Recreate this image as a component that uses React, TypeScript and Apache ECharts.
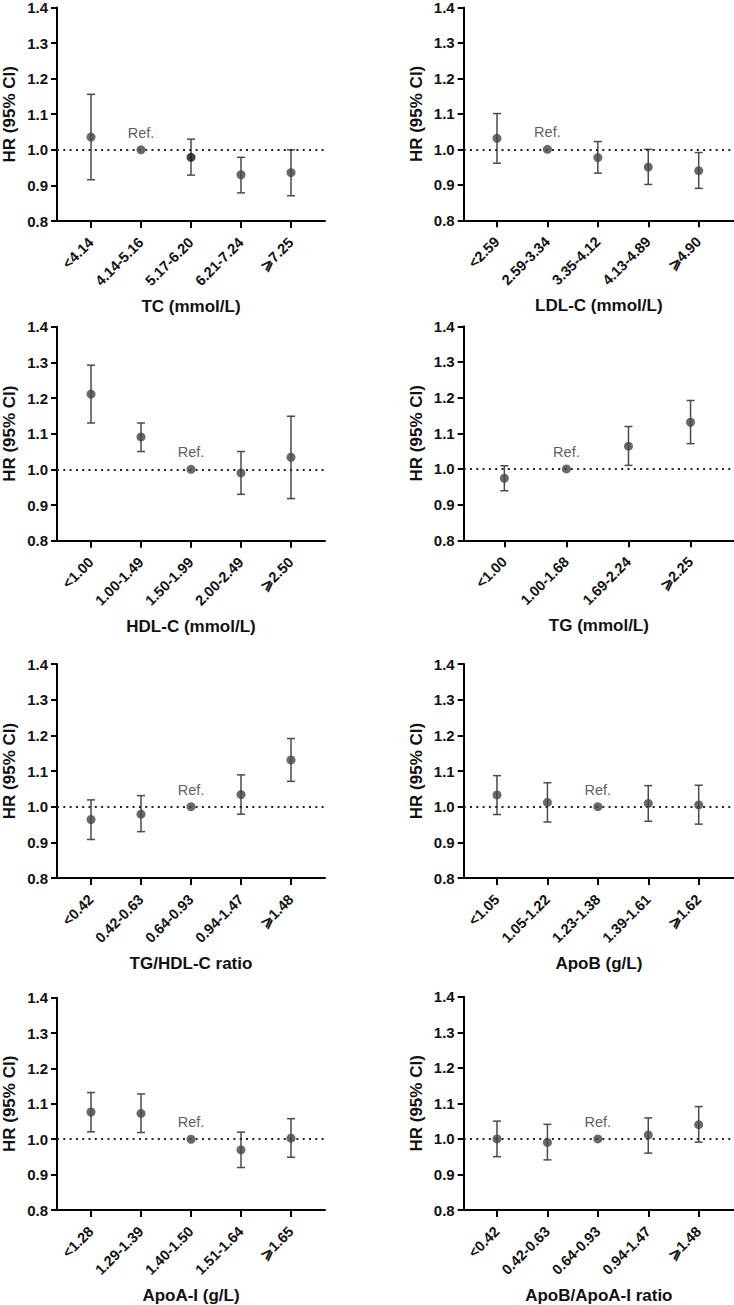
import React, { useEffect, useRef } from "react";
import * as echarts from "echarts";

// ---------- data ----------
const tcCats = ["<4.14", "4.14-5.16", "5.17-6.20", "6.21-7.24", "⩾7.25"];
const tcHR = [1.036, 1.0, 0.979, 0.93, 0.936];
const tcLow = [0.916, null, 0.929, 0.879, 0.871];
const tcHigh = [1.156, null, 1.03, 0.979, 1.0];

const ldlCats = ["<2.59", "2.59-3.34", "3.35-4.12", "4.13-4.89", "⩾4.90"];
const ldlHR = [1.031, 1.0, 0.977, 0.95, 0.94];
const ldlLow = [0.961, null, 0.933, 0.901, 0.89];
const ldlHigh = [1.101, null, 1.022, 1.0, 0.991];

const hdlCats = ["<1.00", "1.00-1.49", "1.50-1.99", "2.00-2.49", "⩾2.50"];
const hdlHR = [1.211, 1.091, 1.0, 0.99, 1.034];
const hdlLow = [1.13, 1.05, null, 0.93, 0.918];
const hdlHigh = [1.292, 1.13, null, 1.05, 1.149];

const tgCats = ["<1.00", "1.00-1.68", "1.69-2.24", "⩾2.25"];
const tgHR = [0.974, 1.0, 1.064, 1.131];
const tgLow = [0.939, null, 1.01, 1.071];
const tgHigh = [1.009, null, 1.119, 1.192];

const tgHdlCats = ["<0.42", "0.42-0.63", "0.64-0.93", "0.94-1.47", "⩾1.48"];
const tgHdlHR = [0.964, 0.979, 1.0, 1.034, 1.131];
const tgHdlLow = [0.908, 0.93, null, 0.979, 1.071];
const tgHdlHigh = [1.019, 1.031, null, 1.089, 1.191];

const apoBCats = ["<1.05", "1.05-1.22", "1.23-1.38", "1.39-1.61", "⩾1.62"];
const apoBHR = [1.033, 1.012, 1.0, 1.009, 1.005];
const apoBLow = [0.978, 0.957, null, 0.959, 0.951];
const apoBHigh = [1.087, 1.067, null, 1.059, 1.06];

const apoACats = ["<1.28", "1.29-1.39", "1.40-1.50", "1.51-1.64", "⩾1.65"];
const apoAHR = [1.077, 1.073, 1.0, 0.97, 1.003];
const apoALow = [1.021, 1.019, null, 0.92, 0.949];
const apoAHigh = [1.132, 1.128, null, 1.02, 1.058];

const ratioCats = ["<0.42", "0.42-0.63", "0.64-0.93", "0.94-1.47", "⩾1.48"];
const ratioHR = [1.0, 0.99, 1.0, 1.011, 1.04];
const ratioLow = [0.95, 0.941, null, 0.96, 0.991];
const ratioHigh = [1.05, 1.041, null, 1.059, 1.091];

const yTicksMin = 0.8;
const yTicksMax = 1.4;
const yTickStep = 0.1;
const yAxisTitle = "HR (95% CI)";
const refLabel = "Ref.";

// ---------- layout ----------
const FONT = "Arial";

const panels = [
  { cats: tcCats, hr: tcHR, lo: tcLow, hi: tcHigh, name: "TC (mmol/L)", left: 54.5, top: 7, width: 270.5, xMin: -0.68, xMax: 4.68, dark: [2] },
  { cats: ldlCats, hr: ldlHR, lo: ldlLow, hi: ldlHigh, name: "LDL-C (mmol/L)", left: 463.7, top: 6.3, width: 270.3, xMin: -0.66, xMax: 4.7, dark: [] },
  { cats: hdlCats, hr: hdlHR, lo: hdlLow, hi: hdlHigh, name: "HDL-C (mmol/L)", left: 54.5, top: 326.7, width: 270.5, xMin: -0.68, xMax: 4.68, dark: [] },
  { cats: tgCats, hr: tgHR, lo: tgLow, hi: tgHigh, name: "TG (mmol/L)", left: 463.7, top: 326.3, width: 270.3, xMin: -0.655, xMax: 3.7, dark: [] },
  { cats: tgHdlCats, hr: tgHdlHR, lo: tgHdlLow, hi: tgHdlHigh, name: "TG/HDL-C ratio", left: 54.5, top: 664, width: 270.5, xMin: -0.68, xMax: 4.68, dark: [] },
  { cats: apoBCats, hr: apoBHR, lo: apoBLow, hi: apoBHigh, name: "ApoB (g/L)", left: 463.7, top: 664, width: 270.3, xMin: -0.66, xMax: 4.7, dark: [] },
  { cats: apoACats, hr: apoAHR, lo: apoALow, hi: apoAHigh, name: "ApoA-I (g/L)", left: 54.5, top: 997.7, width: 270.5, xMin: -0.68, xMax: 4.68, dark: [] },
  { cats: ratioCats, hr: ratioHR, lo: ratioLow, hi: ratioHigh, name: "ApoB/ApoA-I ratio", left: 463.7, top: 996.7, width: 270.3, xMin: -0.66, xMax: 4.7, dark: [] },
];
const PLOT_H = 214;

function buildOption() {
  const grid: any[] = [];
  const xAxis: any[] = [];
  const yAxis: any[] = [];
  const series: any[] = [];

  panels.forEach((p, gi) => {
    grid.push({ left: p.left, top: p.top, width: p.width, height: PLOT_H, containLabel: false });
    const idx = p.cats.map((_, i) => i);
    xAxis.push({
      type: "value",
      gridIndex: gi,
      min: p.xMin,
      max: p.xMax,
      axisLine: { show: true, onZero: false, lineStyle: { color: "#000", width: 2 } },
      axisTick: { show: true, customValues: idx, length: 7, lineStyle: { color: "#000", width: 2 } },
      axisLabel: {
        customValues: idx,
        formatter: (v: number) => p.cats[Math.round(v)] ?? "",
        rotate: 45,
        margin: 19,
        align: "right",
        verticalAlign: "middle",
        padding: [6, 0, 0, 0],
        fontFamily: FONT,
        fontWeight: "bold",
        fontSize: 14.5,
        color: "#111",
      },
      splitLine: { show: false },
      name: p.name,
      nameLocation: "middle",
      nameGap: 77,
      nameTextStyle: { fontFamily: FONT, fontWeight: "bold", fontSize: 17, color: "#111" },
    });
    yAxis.push({
      type: "value",
      gridIndex: gi,
      min: yTicksMin,
      max: yTicksMax,
      interval: yTickStep,
      axisLine: { show: true, onZero: false, lineStyle: { color: "#000", width: 2 } },
      axisTick: { show: true, length: 6, lineStyle: { color: "#000", width: 2 } },
      axisLabel: {
        formatter: (v: number) => v.toFixed(1),
        margin: 9,
        fontFamily: FONT,
        fontWeight: "bold",
        fontSize: 15,
        color: "#111",
      },
      splitLine: { show: false },
      name: yAxisTitle,
      nameLocation: "middle",
      nameGap: 39,
      nameTextStyle: { fontFamily: FONT, fontWeight: "bold", fontSize: 17, color: "#111" },
    });

    const barData: any[] = [];
    p.cats.forEach((_, i) => {
      if (p.lo[i] != null && p.hi[i] != null) barData.push([i, p.lo[i], p.hi[i]]);
    });

    series.push({
      type: "custom",
      xAxisIndex: gi,
      yAxisIndex: gi,
      z: 2,
      data: barData,
      renderItem: (params: any, api: any) => {
        const x = api.value(0);
        const t = api.coord([x, api.value(2)]);
        const b = api.coord([x, api.value(1)]);
        const st = { stroke: "#4a4a4a", lineWidth: 1.5 };
        return {
          type: "group",
          children: [
            { type: "line", shape: { x1: t[0], y1: t[1], x2: b[0], y2: b[1] }, style: st },
            { type: "line", shape: { x1: t[0] - 4, y1: t[1], x2: t[0] + 4, y2: t[1] }, style: st },
            { type: "line", shape: { x1: b[0] - 4, y1: b[1], x2: b[0] + 4, y2: b[1] }, style: st },
          ],
        };
      },
      markLine: {
        silent: true,
        symbol: "none",
        label: { show: false },
        lineStyle: { color: "#222", width: 2, type: [2, 4.3] },
        data: [{ yAxis: 1 }],
      },
    });

    series.push({
      type: "scatter",
      xAxisIndex: gi,
      yAxisIndex: gi,
      z: 5,
      symbol: "circle",
      symbolSize: 9,
      data: p.hr.map((v, i) => {
        const isRef = p.lo[i] == null;
        const item: any = {
          value: [i, v],
          itemStyle: { color: p.dark.includes(i) ? "#111" : "#444" },
        };
        if (isRef) {
          item.label = {
            show: true,
            formatter: refLabel,
            position: "top",
            distance: 5,
            fontFamily: FONT,
            fontSize: 14.5,
            color: "#333",
          };
        }
        return item;
      }),
    });
  });

  return { animation: false, backgroundColor: "#fff", grid, xAxis, yAxis, series };
}

export default function App() {
  const ref = useRef<HTMLDivElement>(null);
  useEffect(() => {
    if (!ref.current) return;
    const chart = echarts.init(ref.current, undefined, { renderer: "svg" });
    chart.setOption(buildOption() as any);
    return () => chart.dispose();
  }, []);
  return (
    <div
      ref={ref}
      style={{ position: "absolute", left: 0, top: 0, width: 734, height: 1305, background: "#fff" }}
    />
  );
}
